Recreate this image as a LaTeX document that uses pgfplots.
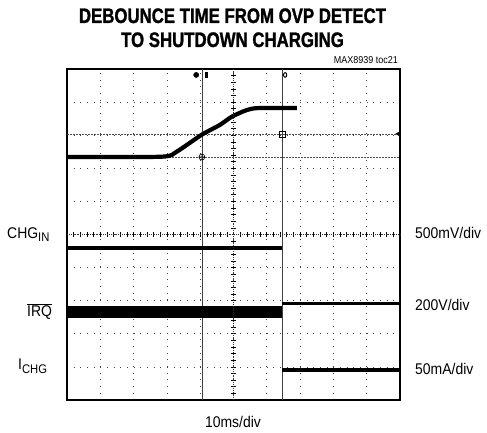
\documentclass[border=0pt]{standalone}
\usepackage{fontspec}
\setmainfont{Liberation Sans}
\newfontfamily\labfont{Liberation Sans}[FakeStretch=0.9]
\newfontfamily\titlefont{Liberation Sans Bold}[FakeStretch=0.8,FakeBold=1.2]
\usepackage{pgfplots}
\pgfplotsset{compat=1.18}
\usetikzlibrary{plotmarks}
\begin{document}
\begin{tikzpicture}[x=1pt,y=1pt]
\useasboundingbox (0,0) rectangle (487,433);
% main axis with grid
\begin{axis}[
  at={(67pt,33pt)}, anchor=south west,
  scale only axis, width=333pt, height=331pt,
  xmin=0, xmax=10, ymin=0, ymax=10,
  xtick={0,1,2,3,4,5,6,7,8,9,10},
  ytick={0,1,2,3,4,5,6,7,8,9,10},
  xticklabels={}, yticklabels={},
  major tick length=0pt,
  grid=major,
  grid style={black!75, line width=0.7pt, dash pattern=on 0.7pt off 5.96pt},
  axis line style={line width=2.6pt, black},
  clip=false,
]
% cursor lines
\addplot[black!75, line width=0.6pt] coordinates {(4.05,0) (4.05,10)};
\addplot[black!75, line width=0.6pt] coordinates {(6.46,0) (6.46,10)};
% dashed reference lines
\addplot[black!70, line width=0.6pt, dash pattern=on 2pt off 1pt] coordinates {(0,7.34) (10,7.34)};
\addplot[black!70, line width=0.6pt, dash pattern=on 2pt off 1pt] coordinates {(0,8.04) (10,8.04)};
% ramp trace
\addplot[black, line width=4.2pt, smooth, tension=0.4] coordinates {
 (0,7.34) (2.84,7.35) (3.29,7.50) (4.04,8.01) (4.59,8.31) (4.95,8.56) (5.40,8.76) (5.75,8.82) (6.90,8.82)};
% CHG_IN trace
\addplot[black, line width=3.8pt] coordinates {(0,4.59) (6.46,4.59)};
% IRQ trace
\addplot[black, line width=12pt] coordinates {(0,2.67) (6.46,2.67)};
\addplot[black, line width=3.5pt] coordinates {(6.46,2.92) (10,2.92)};
% ICHG trace
\addplot[black, line width=4pt] coordinates {(6.46,0.91) (10,0.91)};
% markers
\addplot[only marks, mark=oplus, mark size=3pt, black, line width=0.6pt] coordinates {(4.05,7.34)};
\addplot[only marks, mark=square, mark size=3pt, black, line width=0.6pt] coordinates {(6.46,8.04)};
\addplot[only marks, mark=oplus*, mark size=2.6pt, black] coordinates {(3.88,9.82)};
\addplot[only marks, mark=square*, mark size=2.4pt, black, mark options={xscale=0.6}] coordinates {(4.18,9.82)};
\addplot[only marks, mark=o, mark size=2.3pt, black, line width=1pt, mark options={xscale=0.7}] coordinates {(6.55,9.82)};
\addplot[only marks, mark=triangle*, mark size=2.5pt, black, mark options={rotate=90}] coordinates {(9.95,8.04)};
\end{axis}
% center crosshair with ticks
\begin{axis}[
  at={(67pt,33pt)}, anchor=south west,
  scale only axis, width=333pt, height=331pt,
  xmin=-5, xmax=5, ymin=-5, ymax=5,
  axis lines=center,
  axis line style={-, black!80, line width=0.7pt, dash pattern=on 0.7pt off 1.2pt},
  xtick={-4.8,-4.6,...,4.9}, ytick={-4.8,-4.6,...,4.9},
  xticklabels={}, yticklabels={},
  major tick length=4.5pt, tick align=center,
  tick style={black, line width=0.6pt},
]
\addplot[draw=none] coordinates {(0,0)};
\end{axis}
% texts
\node[anchor=base, inner sep=0pt] at (232.5,410) {\titlefont\fontsize{21}{21}\selectfont DEBOUNCE TIME FROM OVP DETECT};
\node[anchor=base, inner sep=0pt] at (232.5,386) {\titlefont\fontsize{21}{21}\selectfont TO SHUTDOWN CHARGING};
\node[anchor=base east, inner sep=0pt] at (398,369.5) {\labfont\fontsize{10}{10}\selectfont MAX8939 toc21};
\node[anchor=base west, inner sep=0pt] at (7,194.5) {\labfont\fontsize{15.5}{15.5}\selectfont CHG\raisebox{-0.22em}{\fontsize{12.5}{12.5}\selectfont IN}};
\node[anchor=base west, inner sep=0pt] at (27,116.5) {\labfont\fontsize{15.5}{15.5}\selectfont $\overline{\hbox{IRQ}}$};
\node[anchor=base west, inner sep=0pt] at (18,63) {\labfont\fontsize{15.5}{15.5}\selectfont I\raisebox{-0.22em}{\fontsize{12.5}{12.5}\selectfont CHG}};
\node[anchor=base west, inner sep=0pt] at (415,194) {\labfont\fontsize{15.5}{15.5}\selectfont 500mV/div};
\node[anchor=base west, inner sep=0pt] at (415,122) {\labfont\fontsize{15.5}{15.5}\selectfont 200V/div};
\node[anchor=base west, inner sep=0pt] at (415,58) {\labfont\fontsize{15.5}{15.5}\selectfont 50mA/div};
\node[anchor=base, inner sep=0pt] at (233,5.5) {\labfont\fontsize{15.5}{15.5}\selectfont 10ms/div};
\end{tikzpicture}
\end{document}
